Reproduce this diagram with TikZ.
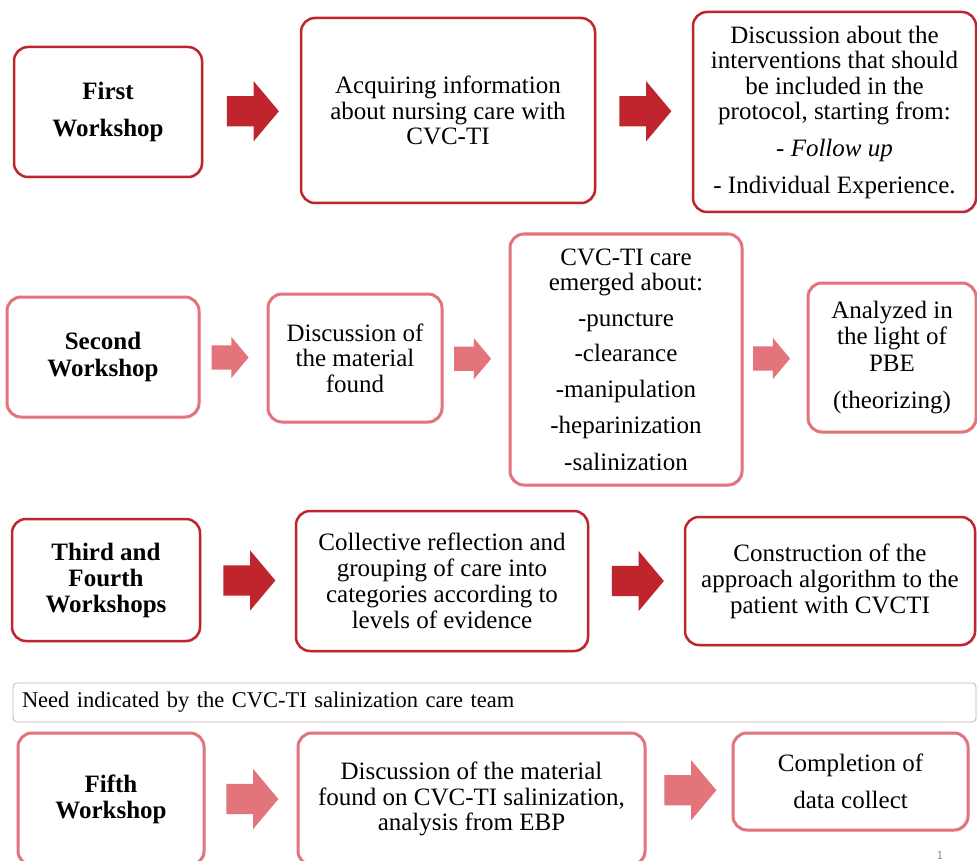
\documentclass[tikz,border=0pt]{standalone}
\usepackage{fontspec}
\setmainfont{Liberation Serif}
\usetikzlibrary{shapes.arrows,shadows}
\definecolor{dkred}{RGB}{192,36,45}
\definecolor{ltred}{RGB}{228,116,124}
\begin{document}
\begin{tikzpicture}[x=1pt,y=-1pt]
              % Define styles for boxes and arrows
              \tikzset{
                dark box/.style={draw=dkred, line width=2.5pt, rounded corners=14pt, fill=white, align=center, inner sep=0pt,
                  drop shadow={opacity=0.2, shadow xshift=1.5pt, shadow yshift=-1.5pt}},
                light box/.style={dark box, draw=ltred, line width=3pt},
                head text/.style={font=\fontsize{25}{37}\selectfont\bfseries},
                body text/.style={font=\fontsize{25}{25.5}\selectfont},
                dark arrow/.style={single arrow, fill=dkred, draw=none, inner xsep=0pt, inner ysep=15pt, minimum height=52pt, minimum width=60pt,
                  single arrow head extend=15pt, single arrow tip angle=100, xshift=-5pt},
                light arrow/.style={dark arrow, fill=ltred},
                small arrow/.style={inner ysep=12pt, minimum height=37pt, minimum width=41pt, single arrow head extend=8.5pt, xshift=-3.5pt}
              }
              \clip (0,0) rectangle (977,861);
              \fill[white] (0,0) rectangle (977,861);

              % First row
              \node[dark box, head text, minimum width=188pt, minimum height=130pt] (b11) at (108,112) {First\\Workshop};
              \node[dark box, body text, minimum width=294pt, minimum height=185pt] (b12) at (448,110.5) {Acquiring information\\about nursing care with\\CVC-TI};
              \node[dark box, body text, minimum width=283pt, minimum height=200pt] (b13) at (834.5,112) {Discussion about the\\interventions that should\\be included in the\\protocol, starting from:\\[11.5pt]- \textit{Follow up}\\[11pt]- Individual Experience.};
              \path (b11.east) -- (b12.west) node[midway, dark arrow] (a11) {};
              \path (b12.east) -- (b13.west) node[midway, dark arrow] (a12) {};

              % Second row
              \node[light box, head text, font=\fontsize{25}{27}\selectfont\bfseries, minimum width=192pt, minimum height=120pt] (b21) at (103,357) {Second\\Workshop};
              \node[light box, body text, minimum width=174pt, minimum height=128pt] (b22) at (355,358) {Discussion of\\the material\\found};
              \node[light box, body text, font=\fontsize{25}{25}\selectfont, minimum width=232pt, minimum height=251pt] (b23) at (626,359.5) {CVC-TI care\\emerged about:\\[11pt]-puncture\\[10pt]-clearance\\[11pt]-manipulation\\[11pt]-heparinization\\[12pt]-salinization};
              \node[light box, body text, font=\fontsize{25}{26.5}\selectfont, minimum width=168pt, minimum height=149pt] (b24) at (892,357.5) {Analyzed in\\the light of\\PBE\\[10.5pt](theorizing)};
              \path (b21.east) -- (b22.west) node[midway, light arrow, small arrow] (a21) {};
              \path (b22.east) -- (b23.west) node[midway, light arrow, small arrow] (a22) {};
              \path (b23.east) -- (b24.west) node[midway, light arrow, small arrow] (a23) {};

              % Third row
              \node[dark box, head text, font=\fontsize{25}{26}\selectfont\bfseries, minimum width=188pt, minimum height=122pt] (b31) at (106,580) {Third and\\Fourth\\Workshops};
              \node[dark box, body text, font=\fontsize{25}{26}\selectfont, minimum width=292pt, minimum height=140pt] (b32) at (442,581) {Collective reflection and\\grouping of care into\\categories according to\\levels of evidence};
              \node[dark box, body text, font=\fontsize{25}{26}\selectfont, minimum width=290pt, minimum height=128pt] (b33) at (830,581) {Construction of the\\approach algorithm to the\\patient with CVCTI};
              \path (b31.east) -- (b32.west) node[midway, dark arrow] (a31) {};
              \path (b32.east) -- (b33.west) node[midway, dark arrow] (a32) {};

              % Need bar
              \node[draw=ltred!45!gray!60, line width=0.8pt, rounded corners=4pt, fill=white, minimum width=963pt, minimum height=39pt,
                inner xsep=9pt, text width=945pt, align=left, font=\fontsize{22.5}{24}\selectfont] (need) at (494.5,702.5) {Need indicated by the CVC-TI salinization care team};

              % Fifth row
              \node[light box, head text, font=\fontsize{25}{26}\selectfont\bfseries, minimum width=186pt, minimum height=132pt] (b51) at (111,799) {Fifth\\Workshop};
              \node[light box, body text, minimum width=347pt, minimum height=132pt] (b52) at (471.5,799) {Discussion of the material\\found on CVC-TI salinization,\\analysis from EBP};
              \node[light box, body text, font=\fontsize{25}{37}\selectfont, minimum width=235pt, minimum height=97pt] (b53) at (850.5,781.5) {Completion of\\data collect};
              \path (b51.east) -- (b52.west) node[midway, light arrow] (a51) {};
              \path (b52.east) -- (b53.west) node[midway, light arrow] (a52) {};

              % Page number
              \node[font=\sffamily\fontsize{12}{12}\selectfont, text=gray] (pg) at (940,855) {1};
            \end{tikzpicture}
\end{document}
